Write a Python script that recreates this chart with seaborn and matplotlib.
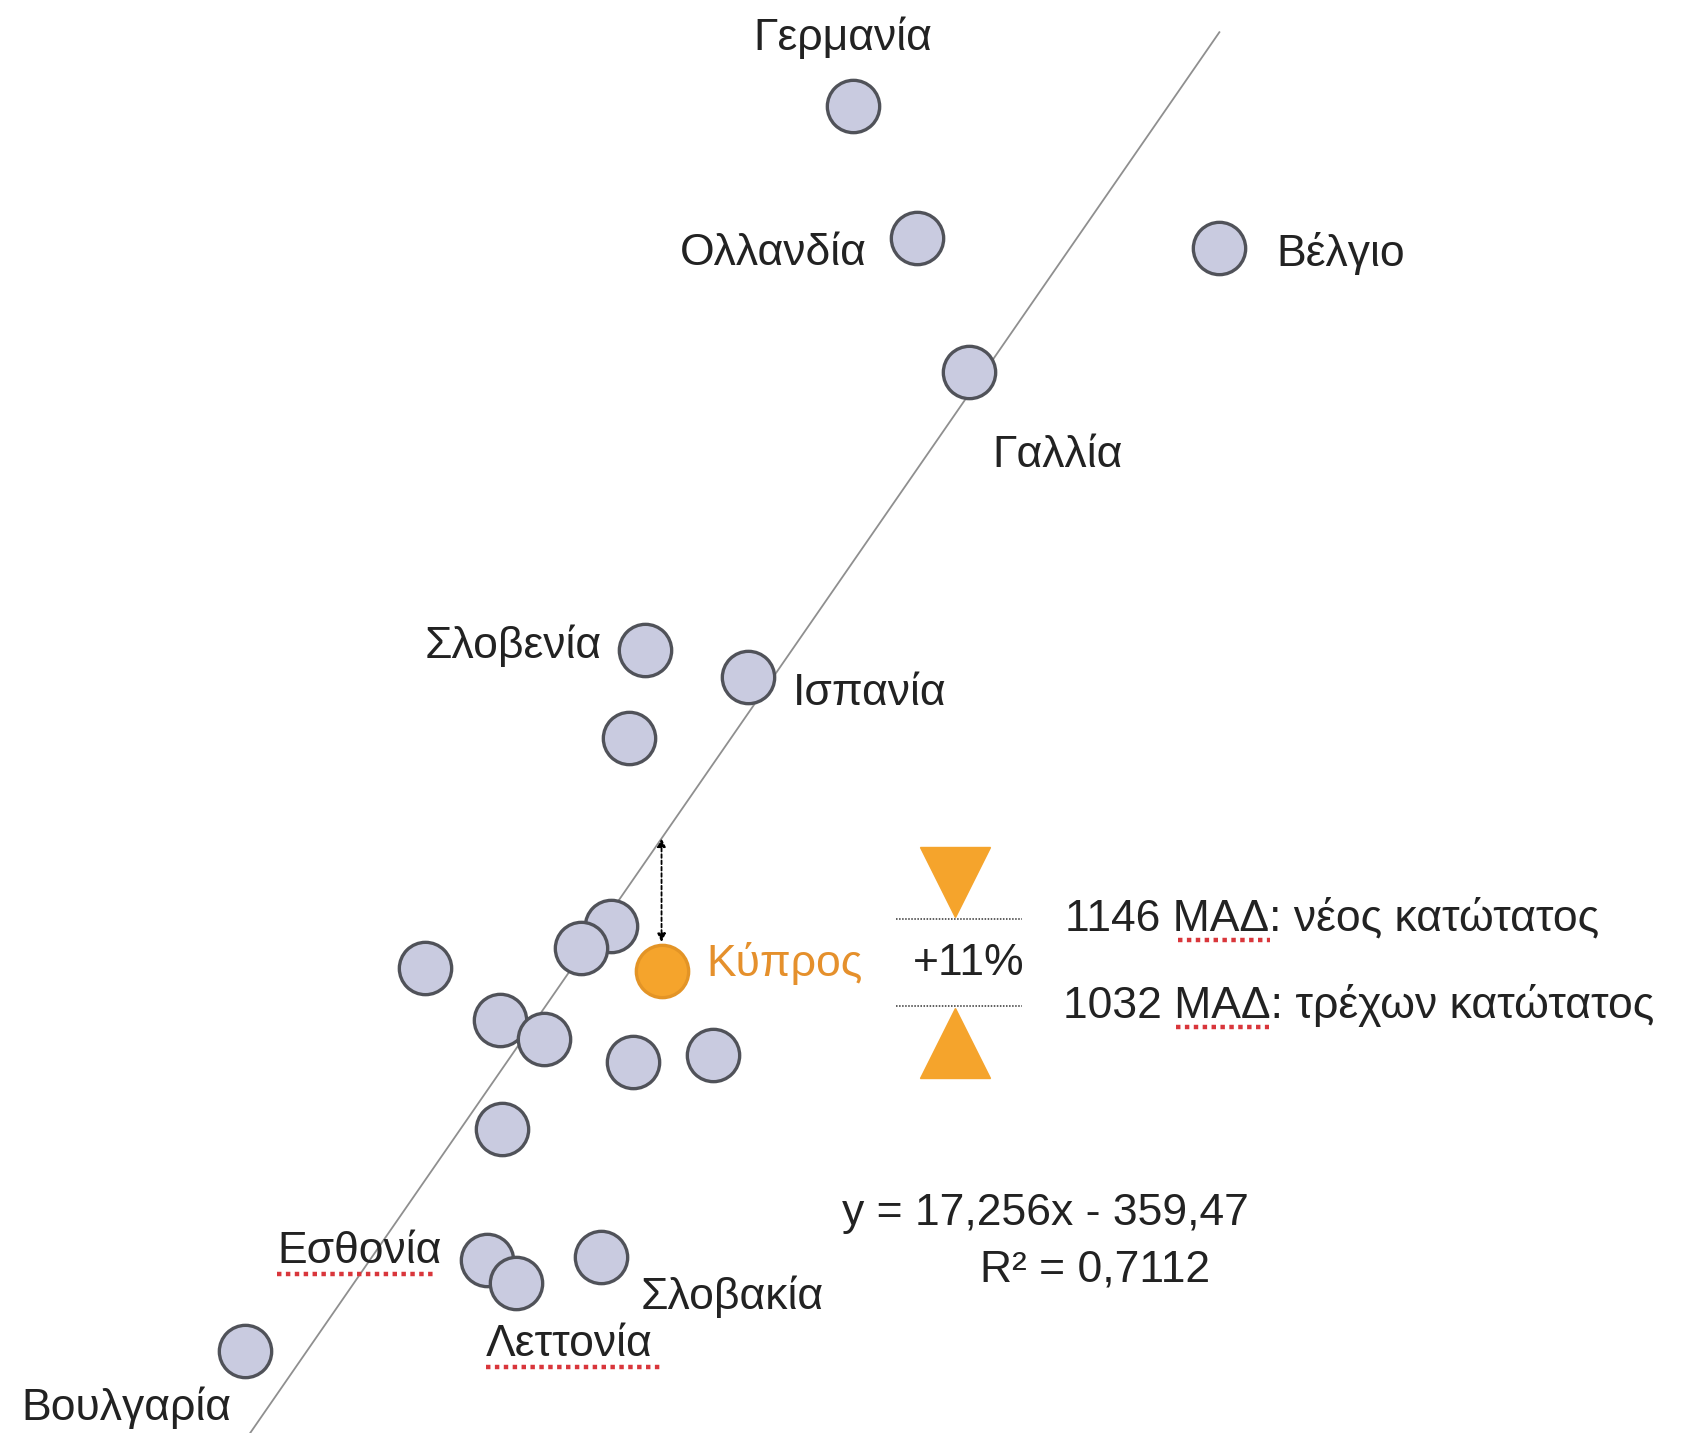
import numpy as np
import pandas as pd
import matplotlib
matplotlib.use("Agg")
import matplotlib.pyplot as plt
import seaborn as sns

# ---------------- data ----------------
countries = ["Γερμανία", "Ολλανδία", "Βέλγιο", "Γαλλία", "Σλοβενία", "Ισπανία",
             "c7", "c8", "c9", "Κύπρος", "c11", "c12", "c13", "c14", "c15", "c16",
             "Εσθονία", "Λεττονία", "Σλοβακία", "Βουλγαρία"]
x_vals = [100.98, 105.64, 127.37, 109.36, 86.07, 93.45,
          84.91, 83.59, 81.42, 87.24, 70.24, 75.59, 78.78, 85.22, 90.96, 75.75,
          74.66, 76.76, 82.89, 57.27]
y_vals = [1775.3, 1661.3, 1653.0, 1546.4, 1308.2, 1285.0,
          1232.2, 1070.9, 1051.5, 1032.0, 1034.8, 990.3, 973.6, 954.1, 959.7, 896.7,
          783.6, 764.1, 786.4, 705.8]
highlight = "Κύπρος"

slope = 17.256
intercept = -359.47
r_squared = 0.7112
line_x_range = [57.66, 127.37]

new_wage = 1146
current_wage = 1032
increase_pct = 11

eq_label = "y = 17,256x - 359,47"
r2_label = "R² = 0,7112"

# ---------------- styling ----------------
FONT = ["Liberation Sans", "DejaVu Sans"]
GREY_FILL = "#c9cbe0"
GREY_EDGE = "#505259"
ORANGE = "#f5a42c"
ORANGE_TXT = "#e5902c"
FS = 32

df = pd.DataFrame({"country": countries, "x": x_vals, "y": y_vals})
df["group"] = np.where(df["country"] == highlight, "hl", "other")

fig = plt.figure(figsize=(16.92, 14.33), dpi=100)
ax = fig.add_axes([0, 0, 1, 1])
ax.set_xlim(39.65, 161.37)
ax.set_ylim(635.3, 1866.1)
ax.axis("off")

# regression line
lx = np.array(line_x_range)
ax.plot(lx, slope * lx + intercept, color="#8f8f8f", lw=1.3, zorder=1)

# points
sns.scatterplot(data=df[df.group == "other"], x="x", y="y", s=1420,
                color=GREY_FILL, edgecolor=GREY_EDGE, linewidth=2.4,
                ax=ax, zorder=3, legend=False)
sns.scatterplot(data=df[df.group == "hl"], x="x", y="y", s=1420,
                color=ORANGE, edgecolor="#e39426", linewidth=2.4,
                ax=ax, zorder=4, legend=False)

# arrow from Cyprus to the regression line
cx = df.loc[df.country == highlight, "x"].iloc[0]
cy = df.loc[df.country == highlight, "y"].iloc[0]
fit_y = slope * cx + intercept
ax.annotate("", xy=(cx, fit_y), xytext=(cx, cy + 25),
            arrowprops=dict(arrowstyle="<|-|>", color="black", lw=1.3,
                            linestyle=(0, (2, 1.5)), mutation_scale=12,
                            shrinkA=0, shrinkB=0), zorder=5)


def af(dx, dy):
    """reference layout position (1568x1328 units) -> axes fraction"""
    return dx / 1568.0, 1 - dy / 1328.0


def label(txt, dx, dy, ha="left", color="#222222", fs=FS):
    ax.text(*af(dx, dy), txt, transform=ax.transAxes, ha=ha, va="center",
            fontsize=fs, color=color, family=FONT, zorder=6)


label("Γερμανία", 781, 35, ha="center")
label("Ολλανδία", 803, 235, ha="right")
label("Βέλγιο", 1183, 235)
label("Γαλλία", 920, 422)
label("Σλοβενία", 558, 598, ha="right")
label("Ισπανία", 735, 643)
label("Κύπρος", 655, 893, color=ORANGE_TXT)
label(f"+{increase_pct}%", 846, 893)
label(f"{new_wage} ΜΑΔ: νέος κατώτατος", 987, 851)
label(f"{current_wage} ΜΑΔ: τρέχων κατώτατος", 985, 932)
label(eq_label, 780, 1125)
label(r2_label, 908, 1177)
label("Εσθονία", 257, 1160)
label("Λεττονία", 450, 1246)
label("Σλοβακία", 594, 1202)
label("Βουλγαρία", 20, 1305)

# spell-check style red dotted underlines
for x0, x1, yy in [(1092, 1177, 871), (1090, 1176, 952), (257, 402, 1181), (450, 612, 1267)]:
    (a0, b0), (a1, b1) = af(x0, yy), af(x1, yy)
    ax.plot([a0, a1], [b0, b1], transform=ax.transAxes, color="#d9363b",
            lw=3.2, linestyle=(0, (1, 1)), solid_capstyle="butt", zorder=6)

# dotted guide lines and orange triangles
for yy in (852, 932):
    (a0, b0), (a1, b1) = af(830, yy), af(947, yy)
    ax.plot([a0, a1], [b0, b1], transform=ax.transAxes, color="#333333",
            lw=1.1, linestyle=(0, (1, 1)), zorder=5)
ax.plot(*af(885, 817), marker="v", markersize=50, color=ORANGE,
        transform=ax.transAxes, zorder=5)
ax.plot(*af(885, 967), marker="^", markersize=50, color=ORANGE,
        transform=ax.transAxes, zorder=5)

fig.savefig("out.png", dpi=100, facecolor="white")
